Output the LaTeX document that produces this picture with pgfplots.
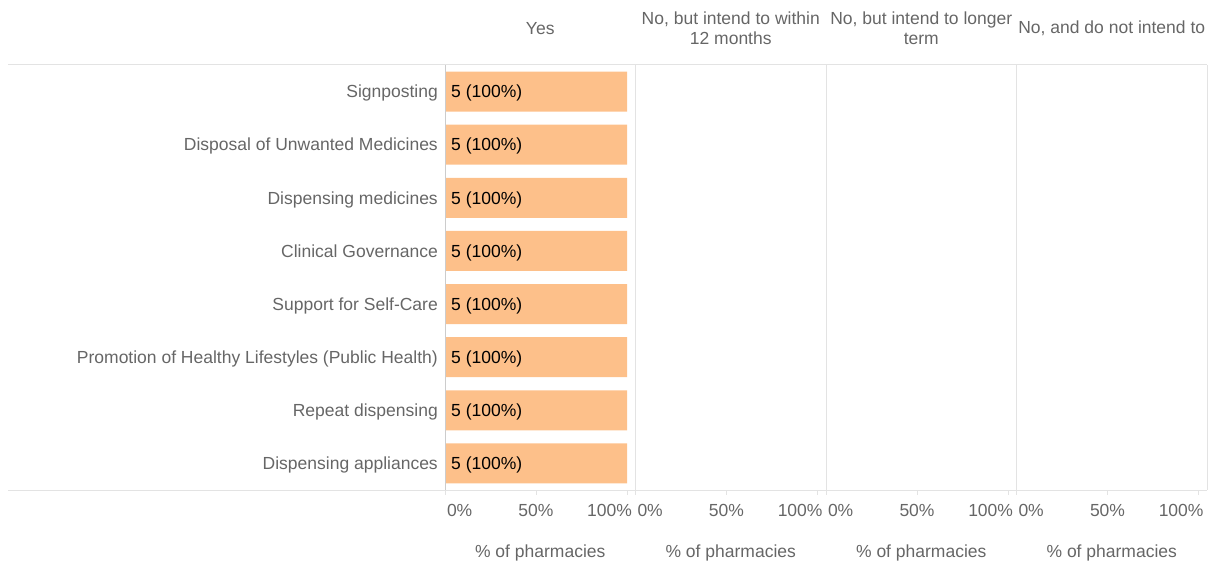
\documentclass[border=0pt]{standalone}
\usepackage{pgfplots}
\pgfplotsset{compat=1.18}
\usepackage{fontspec}
\setmainfont{Liberation Sans}
\definecolor{txt}{HTML}{666666}
\definecolor{barc}{HTML}{FDC08A}
\definecolor{sep}{HTML}{E3E3E3}
\definecolor{axl}{HTML}{CCCCCC}
\pgfplotsset{
  panel/.style={
    scale only axis, width=190.5pt, height=425pt,
    anchor=south west,
    xmin=0, xmax=1.0467, ymin=-0.5, ymax=7.5, y dir=reverse,
    axis line style={draw=none},
    font=\fontsize{17.5}{20}\selectfont,
    xtick={0,0.5,1},
    xticklabels={{\makebox[0pt][l]{\kern2pt 0\%}},{50\%},{\makebox[0pt][r]{100\%\kern-5pt}}},
    xticklabel style={anchor=base, yshift=-21.5pt, inner sep=0pt, text=txt},
    xtick pos=lower, tick align=outside, major tick length=5pt,
    x tick style={color=sep, line width=1pt},
    y tick style={draw=none},
    ytick=\empty,
    xlabel={\% of pharmacies},
    xlabel style={at={(0.5,0)}, anchor=base, yshift=-67pt, inner sep=0pt, text=txt},
    title style={at={(0.5,1)}, anchor=center, yshift=30.5pt, align=center, text=txt, font=\fontsize{17.5}{20}\selectfont},
    clip=false,
  },
  databar/.style={xbar, bar width=40pt, fill=barc, draw=none},
}
\begin{document}
\begin{tikzpicture}
\path[use as bounding box] (0,0) rectangle (1217pt,563pt);
\draw[sep, line width=1pt] (8pt,498pt) -- (1207pt,498pt);
\draw[sep, line width=1pt] (8pt,73pt) -- (1207pt,73pt);
% Panel 1: Yes
\begin{axis}[panel, at={(445pt,73pt)}, title={Yes},
  ytick={0,1,2,3,4,5,6,7},
  yticklabels={Signposting, Disposal of Unwanted Medicines, Dispensing medicines, Clinical Governance, Support for Self-Care, Promotion of Healthy Lifestyles (Public Health), Repeat dispensing, Dispensing appliances},
  yticklabel style={anchor=base east, inner sep=0pt, xshift=-2pt, yshift=-6.3pt, text=txt},
]
\addplot[databar, nodes near coords, point meta=explicit symbolic,
  every node near coord/.append style={anchor=base west, inner sep=0pt, xshift=-176pt, yshift=-6.3pt, text=black, font=\fontsize{17.5}{20}\selectfont}]
  coordinates {(1,0)[5 (100\%)] (1,1)[5 (100\%)] (1,2)[5 (100\%)] (1,3)[5 (100\%)] (1,4)[5 (100\%)] (1,5)[5 (100\%)] (1,6)[5 (100\%)] (1,7)[5 (100\%)]};
\draw[axl, line width=1pt] (rel axis cs:0,0) -- (rel axis cs:0,1);
\draw[sep, line width=1pt] (rel axis cs:1,0) -- (rel axis cs:1,1);
\end{axis}
% Panel 2
\begin{axis}[panel, at={(635.5pt,73pt)}, title={No, but intend to within\\12 months}]
\addplot[databar, fill=none] coordinates {(0,0) (0,1) (0,2) (0,3) (0,4) (0,5) (0,6) (0,7)};
\draw[sep, line width=1pt] (rel axis cs:1,0) -- (rel axis cs:1,1);
\end{axis}
% Panel 3
\begin{axis}[panel, at={(826pt,73pt)}, title={No, but intend to longer\\term}]
\addplot[databar, fill=none] coordinates {(0,0) (0,1) (0,2) (0,3) (0,4) (0,5) (0,6) (0,7)};
\draw[sep, line width=1pt] (rel axis cs:1,0) -- (rel axis cs:1,1);
\end{axis}
% Panel 4
\begin{axis}[panel, at={(1016.5pt,73pt)}, title={No, and do not intend to}]
\addplot[databar, fill=none] coordinates {(0,0) (0,1) (0,2) (0,3) (0,4) (0,5) (0,6) (0,7)};
\draw[sep, line width=1pt] (rel axis cs:1,0) -- (rel axis cs:1,1);
\end{axis}
\end{tikzpicture}
\end{document}
